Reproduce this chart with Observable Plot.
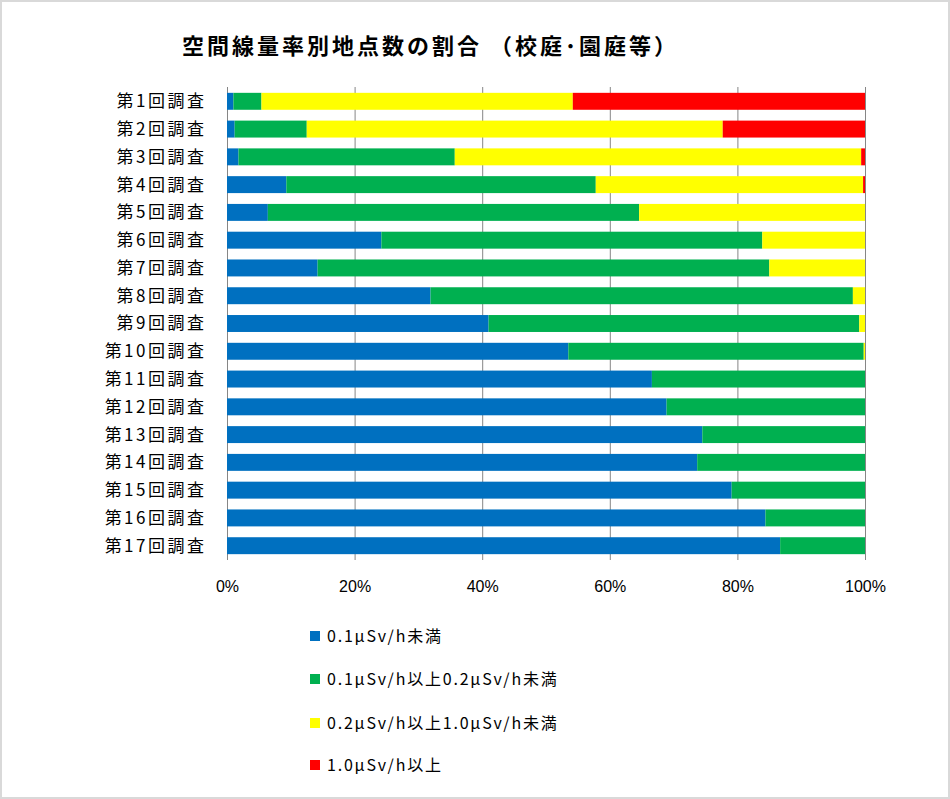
<!DOCTYPE html>
<html>
<head>
<meta charset="utf-8">
<script src="https://cdn.jsdelivr.net/npm/d3@7"></script>
<script src="https://cdn.jsdelivr.net/npm/@observablehq/plot@0.6"></script>
<style>
  html, body { margin: 0; padding: 0; background: #fff; }
  #wrap { position: relative; width: 950px; height: 799px; overflow: hidden; }
  #frame { position: absolute; left: 0; top: 0; width: 946px; height: 795px; border: 2px solid #d9d9d9; pointer-events: none; }
  #title { position: absolute; left: 182px; top: 33px; font-family: "Noto Sans CJK JP", sans-serif; font-weight: bold; font-size: 22px; line-height: 1; letter-spacing: 3px; color: #000; white-space: nowrap; }
  #chart { position: absolute; left: 0; top: 0; }
  .legend { position: absolute; left: 310px; font-family: "Noto Sans CJK JP", sans-serif; font-size: 16px; letter-spacing: 1.8px; color: #000; white-space: nowrap; line-height: 1; }
  .legend .sw { display: inline-block; width: 10px; height: 10px; margin-right: 7px; vertical-align: 1px; }
</style>
</head>
<body>
<div id="wrap">
  <div id="title">空間線量率別地点数の割合 （校庭･園庭等）</div>
  <div id="chart"></div>
  <div id="legend"></div>
  <div id="frame"></div>
</div>
<script>
const surveys = ["第1回調査","第2回調査","第3回調査","第4回調査","第5回調査","第6回調査","第7回調査","第8回調査","第9回調査","第10回調査","第11回調査","第12回調査","第13回調査","第14回調査","第15回調査","第16回調査","第17回調査"];
const classes = ["0.1μSv/h未満","0.1μSv/h以上0.2μSv/h未満","0.2μSv/h以上1.0μSv/h未満","1.0μSv/h以上"];
const colors = ["#0070C0","#00B050","#FFFF00","#FF0000"];
// percentages per class, one value per survey
const below01   = [1.0, 1.2, 1.8, 9.3, 6.4, 24.2, 14.2, 31.9, 41.0, 53.5, 66.6, 68.9, 74.5, 73.7, 79.1, 84.4, 86.7];
const from01to02 = [4.4, 11.3, 33.9, 48.5, 58.2, 59.7, 70.8, 66.2, 58.1, 46.3, 33.4, 31.1, 25.5, 26.3, 20.9, 15.6, 13.3];
const from02to10 = [48.8, 65.2, 63.7, 41.9, 35.4, 16.1, 15.0, 1.9, 0.9, 0.2, 0, 0, 0, 0, 0, 0, 0];
const above10   = [45.8, 22.3, 0.6, 0.3, 0, 0, 0, 0, 0, 0, 0, 0, 0, 0, 0, 0, 0];
const xTicks = [0, 20, 40, 60, 80, 100];

const series = [below01, from01to02, from02to10, above10];
const data = [];
surveys.forEach((s, i) => {
  series.forEach((arr, k) => data.push({survey: s, cls: classes[k], value: arr[i]}));
});

const plot = Plot.plot({
  width: 950,
  height: 610,
  marginTop: 82,
  marginBottom: 45,
  marginLeft: 227,
  marginRight: 85,
  style: {background: "transparent", fontFamily: "\"Noto Sans CJK JP\", sans-serif", color: "#000"},
  x: {domain: [0, 100], axis: null},
  y: {domain: surveys, padding: 0.39, round: false, axis: null},
  color: {domain: classes, range: colors},
  marks: [
    Plot.ruleX(xTicks, {stroke: "#868686", strokeWidth: 1, insetTop: 5, insetBottom: 5}),
    Plot.barX(data, {x: "value", y: "survey", fill: "cls", order: classes}),
    Plot.axisX(xTicks, {tickSize: 0, tickPadding: 15, label: null, tickFormat: d => d + "%", fontSize: 16, fontFamily: "\"Liberation Sans Narrow\", \"Liberation Sans\", sans-serif", fill: "#000"}),
    Plot.axisY({tickSize: 0, tickPadding: 21, fontSize: 17, fontFamily: "\"Noto Sans CJK JP\", sans-serif", fill: "#000", label: null})
  ]
});
plot.querySelectorAll("g[aria-label='y-axis tick label'] text").forEach(t => t.setAttribute("letter-spacing", "2.5"));
document.getElementById("chart").appendChild(plot);

const legend = document.getElementById("legend");
const legendY = [627, 670, 714, 756];
classes.forEach((c, k) => {
  const d = document.createElement("div");
  d.className = "legend";
  d.style.top = legendY[k] + "px";
  d.innerHTML = `<span class="sw" style="background:${colors[k]}"></span>${c}`;
  legend.appendChild(d);
});
</script>
</body>
</html>
